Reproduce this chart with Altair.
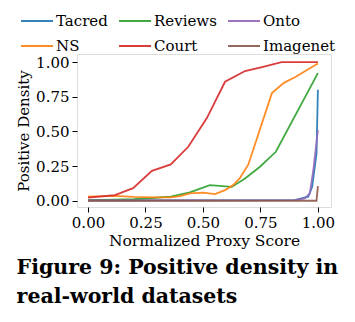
import altair as alt
import pandas as pd

series_names = ["Tacred", "Reviews", "Onto", "NS", "Court", "Imagenet"]
series_colors = ["#1f77b4", "#2ca02c", "#9467bd", "#ff7f0e", "#d62728", "#8c564b"]
# legend fills column by column: order the domain so rows read as in the reference
legend_order = ["Tacred", "NS", "Reviews", "Court", "Onto", "Imagenet"]

tacred_x = [0.0, 0.9, 0.958, 0.975, 0.994, 1.0]
tacred_y = [0.003, 0.005, 0.029, 0.1, 0.34, 0.8]

reviews_x = [0.0, 0.117, 0.2, 0.28, 0.36, 0.443, 0.53, 0.625, 0.683, 0.748, 0.817, 1.0]
reviews_y = [0.005, 0.008, 0.012, 0.02, 0.03, 0.06, 0.113, 0.1, 0.161, 0.245, 0.353, 0.92]

onto_x = [0.0, 0.9, 0.943, 0.965, 0.98, 1.0]
onto_y = [0.002, 0.004, 0.017, 0.053, 0.22, 0.51]

ns_x = [0.0, 0.117, 0.2, 0.28, 0.36, 0.4, 0.443, 0.5, 0.552, 0.596, 0.632, 0.661, 0.697, 0.8, 0.852, 0.9, 1.0]
ns_y = [0.03, 0.035, 0.028, 0.025, 0.025, 0.034, 0.053, 0.058, 0.048, 0.077, 0.113, 0.165, 0.26, 0.776, 0.85, 0.89, 0.99]

court_x = [0.0, 0.117, 0.196, 0.278, 0.36, 0.436, 0.517, 0.596, 0.683, 0.757, 0.842, 1.0]
court_y = [0.023, 0.041, 0.091, 0.216, 0.262, 0.389, 0.596, 0.858, 0.935, 0.964, 1.0, 1.0]

imagenet_x = [0.0, 0.994, 1.0]
imagenet_y = [0.0, 0.0, 0.106]

x_ticks = [0.0, 0.25, 0.5, 0.75, 1.0]
y_ticks = [0.0, 0.25, 0.5, 0.75, 1.0]

rows = []
for name, xs, ys in [
    ("Tacred", tacred_x, tacred_y),
    ("Reviews", reviews_x, reviews_y),
    ("Onto", onto_x, onto_y),
    ("NS", ns_x, ns_y),
    ("Court", court_x, court_y),
    ("Imagenet", imagenet_x, imagenet_y),
]:
    for i, (a, b) in enumerate(zip(xs, ys)):
        rows.append({"series": name, "x": a, "y": b, "order": i})
df = pd.DataFrame(rows)

color_map = dict(zip(series_names, series_colors))
legend_colors = [color_map[n] for n in legend_order]

FONT = "DejaVu Serif"

chart = alt.Chart(df).mark_line(strokeWidth=1.8, opacity=0.9).encode(
    x=alt.X("x:Q",
            scale=alt.Scale(domain=[-0.048, 1.057], nice=False, zero=False),
            axis=alt.Axis(values=x_ticks, format=".2f", title="Normalized Proxy Score",
                          grid=False, domain=False, tickColor="black", tickSize=5,
                          labelPadding=3, titlePadding=3, labelFont=FONT, titleFont=FONT,
                          labelFontSize=15, titleFontSize=15.5, titleFontWeight="normal",
                          labelColor="black", titleColor="black", labelFlush=False)),
    y=alt.Y("y:Q",
            scale=alt.Scale(domain=[-0.045, 1.058], nice=False, zero=False),
            axis=alt.Axis(values=y_ticks, format=".2f", title="Positive Density",
                          grid=False, domain=False, tickColor="black", tickSize=5,
                          labelPadding=3, titlePadding=4, labelFont=FONT, titleFont=FONT,
                          labelFontSize=15, titleFontSize=15, titleFontWeight="normal",
                          labelColor="black", titleColor="black", labelFlush=False)),
    color=alt.Color("series:N",
                    scale=alt.Scale(domain=legend_order, range=legend_colors),
                    legend=alt.Legend(title=None, orient="none", legendX=-57, legendY=-50,
                                      columns=3, symbolType="stroke", symbolSize=1024,
                                      symbolStrokeWidth=2, labelFont=FONT, labelFontSize=15,
                                      labelColor="black", labelOffset=2, columnPadding=7,
                                      rowPadding=-4)),
    order="order:Q",
).properties(
    width=254,
    height=153,
    title=alt.TitleParams(
        text=["Figure 9: Positive density in", "real-world datasets"],
        orient="bottom", anchor="start", font="DejaVu Serif", fontSize=20.5,
        fontWeight="bold", lineHeight=29, offset=9, color="black",
    ),
    autosize=alt.AutoSizeParams(type="none"),
    padding={"left": 77, "top": 54, "right": 24, "bottom": 115},
).configure_view(stroke="black", strokeWidth=1.2).configure(background="white", font=FONT)

chart.save("out.html", embed_options={"renderer": "svg", "actions": False})
